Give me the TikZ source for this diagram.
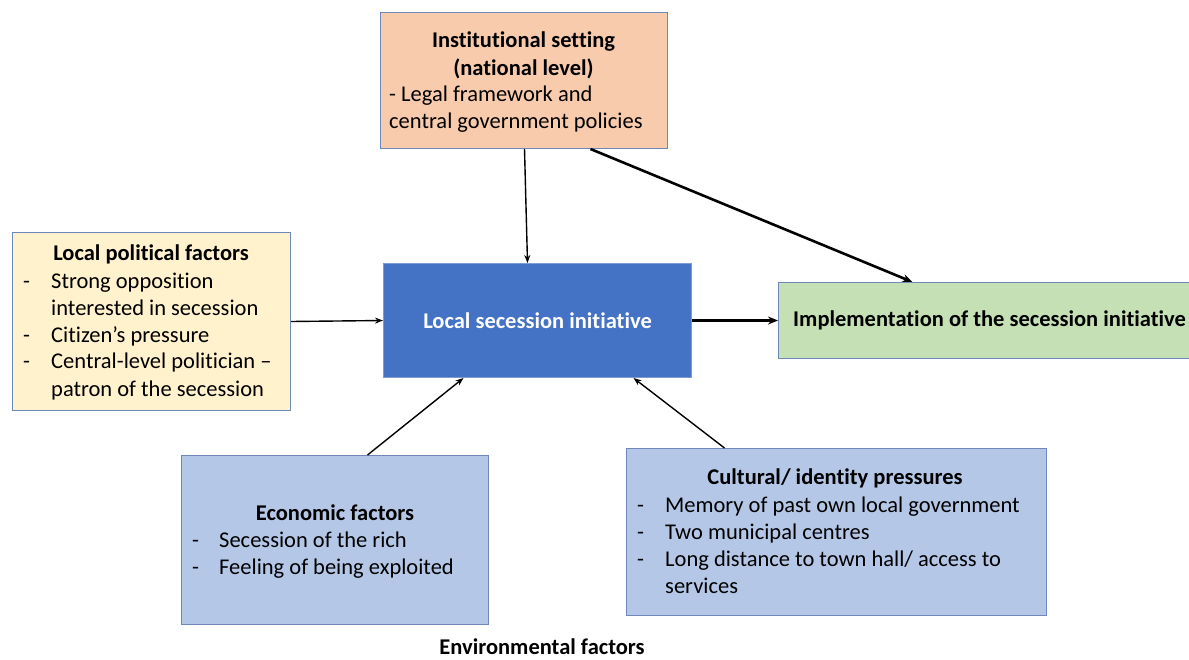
\documentclass[tikz,border=0pt]{standalone}
\usepackage{fontspec}
\setmainfont[Ligatures=NoCommon]{Carlito}
\usetikzlibrary{arrows.meta}
\definecolor{peach}{HTML}{F8CBAD}
\definecolor{cream}{HTML}{FFF2CC}
\definecolor{core}{HTML}{4472C4}
\definecolor{leaf}{HTML}{C5E0B4}
\definecolor{pale}{HTML}{B4C7E7}
\definecolor{edge}{HTML}{6F88BA}
\newcommand\boxfont{\fontsize{22.5}{27}\selectfont}
\tikzset{
  box/.style={draw=edge, line width=1pt, anchor=north west, inner sep=0pt},
  txt/.style={inner sep=0pt, font=\boxfont},
  head/.style={txt, anchor=base, font=\boxfont\bfseries},
  item/.style={txt, anchor=base west},
  thin/.style={line width=1.4pt, -{Stealth[length=8pt,width=6pt]}},
  thick/.style={line width=2.6pt, -{Stealth[length=10pt,width=8pt]}},
}
\begin{document}
\begin{tikzpicture}[x=1pt,y=-1pt]
\useasboundingbox (0,0) rectangle (1189,659);
\fill[white] (0,0) rectangle (1189,659);

% boxes
\node[box, fill=peach, minimum width=287pt, minimum height=136pt] (inst) at (380,12) {};
\node[box, fill=cream, minimum width=278pt, minimum height=178pt] (pol) at (12,232) {};
\node[box, fill=core, draw=core!70!white, minimum width=308pt, minimum height=114pt,
      font=\boxfont\bfseries, text=white] (loc) at (383,263) {Local secession initiative};
\node[box, fill=leaf, minimum width=422pt, minimum height=76pt,
      font=\boxfont\bfseries] (impl) at (778,282) {Implementation of the secession initiative};
\node[box, fill=pale, minimum width=307pt, minimum height=169pt] (eco) at (181,455) {};
\node[box, fill=pale, minimum width=420pt, minimum height=167pt] (cul) at (626,448) {};

% institutional setting
\node[head] (i1) at (523.5,47) {Institutional setting};
\node[head] (i2) at (523.5,75) {(national level)};
\node[item] (i3) at (389,101) {- Legal framework and};
\node[item] (i4) at (389,128) {central government policies};

% local political factors
\node[head] (p0) at (151,260) {Local political factors};
\node[item] (pd1) at (23,288) {-};
\node[item] (p1) at (51,288) {Strong opposition};
\node[item] (p2) at (51,315) {interested in secession};
\node[item] (pd3) at (23,342) {-};
\node[item] (p3) at (51,342) {Citizen’s pressure};
\node[item] (pd4) at (23,368) {-};
\node[item] (p4) at (51,368) {Central-level politician –};
\node[item] (p5) at (51,396) {patron of the secession};

% economic factors
\node[head] (e0) at (335,520) {Economic factors};
\node[item] (ed1) at (192,547) {-};
\node[item] (e1) at (219,547) {Secession of the rich};
\node[item] (ed2) at (192,574) {-};
\node[item] (e2) at (219,574) {Feeling of being exploited};

% cultural / identity pressures
\node[head] (c0) at (835,484) {Cultural/ identity pressures};
\node[item] (cd1) at (637,512) {-};
\node[item] (c1) at (665,512) {Memory of past own local government};
\node[item] (cd2) at (637,539) {-};
\node[item] (c2) at (665,539) {Two municipal centres};
\node[item] (cd3) at (637,566) {-};
\node[item] (c3) at (665,566) {Long distance to town hall/ access to};
\node[item] (c4) at (665,593) {services};

% caption
\node[head] (env) at (542,654) {Environmental factors};

% connectors
\draw[thin] ([xshift=0.5]inst.south) -- ([xshift=-10]loc.north);
\draw[thick] ([xshift=66.5]inst.south) -- ([xshift=-77]impl.north);
\draw[thin] (pol.east) -- (loc.west);
\draw[thick] (loc.east) -- (impl.west);
\draw[thin] ([xshift=32.5]eco.north) -- ([xshift=-74]loc.south);
\draw[thin] ([xshift=-112]cul.north) -- ([xshift=96]loc.south);
\end{tikzpicture}
\end{document}
